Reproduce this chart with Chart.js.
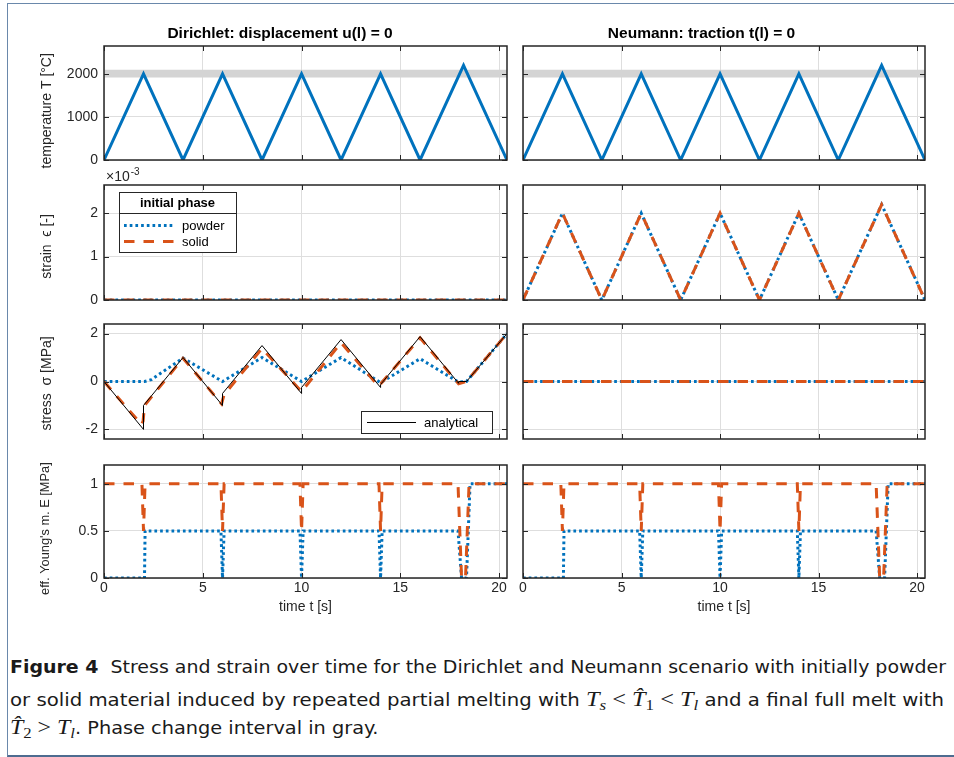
<!DOCTYPE html>
<html>
<head>
<meta charset="utf-8">
<title>Figure 4</title>
<script src="https://cdn.jsdelivr.net/npm/chart.js@4.4.1/dist/chart.umd.min.js"></script>
<style>
  html, body { margin: 0; padding: 0; background: #fff; }
  body { position: relative; width: 954px; height: 757px; overflow: hidden; }
  .frame { position: absolute; left: 7px; top: 3px; width: 960px; height: 751px;
           border-left: 1px solid #6a88ab; border-top: 1px solid #6a88ab; border-bottom: 2px solid #4e6c90; }
  canvas.panel { position: absolute; left: 0; top: 0; }
  .cap { position: absolute; left: 10px; white-space: nowrap; transform-origin: 0 50%;
         font-family: 'DejaVu Sans Condensed', 'Liberation Sans Narrow', 'Liberation Sans', sans-serif;
         font-size: 18px; line-height: 22px; color: #1a1a1a; }
  .m { font-family: 'Liberation Serif', 'DejaVu Serif', serif; font-size: 20px; }
  .m sub { font-size: 0.7em; vertical-align: -0.25em; line-height: 0; }
</style>
</head>
<body>
<div class="frame"></div>
<div class="cap" id="cap1" style="top:656px"><b>Figure 4</b>&nbsp;&nbsp;Stress and strain over time for the Dirichlet and Neumann scenario with initially powder</div>
<div class="cap" id="cap2" style="top:688px">or solid material induced by repeated partial melting with <span class="m"><i>T</i><sub><i>s</i></sub> &lt; <i>T&#770;</i><sub>1</sub> &lt; <i>T</i><sub><i>l</i></sub></span> and a final full melt with</div>
<div class="cap" id="cap3" style="top:716px"><span class="m"><i>T&#770;</i><sub>2</sub> &gt; <i>T</i><sub><i>l</i></sub></span>. Phase change interval in gray.</div>

<script>
const FONT = "'Liberation Sans', Arial, Helvetica, sans-serif";
Chart.defaults.font.family = FONT;
Chart.defaults.color = '#262626';

const BLUE = '#0072BD';
const ORANGE = '#D95319';
const AXIS = '#262626';
const GRID = '#dedede';

// ---------- data ----------
const timeTicks = [0, 5, 10, 15, 20];
const tEnd = 20.4;

// temperature [°C]
const tempTime = [0, 2, 4, 6, 8, 10, 12, 14, 16, 18.2, 20.4];
const tempVal = [0, 2000, 0, 2000, 0, 2000, 0, 2000, 0, 2200, 0];
const phaseBand = [1920, 2100];            // solidus / liquidus
const tempTicks = [0, 1000, 2000];

// strain [-]
const strainTime = [0, 2, 4, 6, 8, 10, 12, 14, 16, 18.2, 20.4];
const strainPowder = [0, 0.002, 0, 0.002, 0, 0.002, 0, 0.002, 0, 0.0022, 0];
const strainSolid = [0, 0.002, 0, 0.002, 0, 0.002, 0, 0.002, 0, 0.0022, 0];
const strainTicks = [0, 0.001, 0.002];

// constant zero curves (Dirichlet strain, Neumann stress)
const flatTime = [0, 20.4];
const flatZero = [0, 0];

// stress [MPa], Dirichlet
const anaTime = [0, 2, 2, 4, 6, 6, 8, 10, 10, 12, 14, 14, 16, 17.95, 17.95, 18.35, 20.4];
const anaVal = [0, -2, -1, 1, -1, -0.5, 1.5, -0.5, -0.25, 1.75, -0.25, -0.125, 1.875, -0.075, 0, 0, 2];
const solTime = [0, 1.9, 1.98, 2.05, 4, 5.95, 6.08, 8, 10, 12, 13.9, 16, 17.95, 18.35, 20.4];
const solVal = [0, -1.8, -1.65, -1.0, 0.97, -0.93, -0.55, 1.38, -0.42, 1.62, -0.2, 1.82, -0.1, 0, 2.0];
const powTime = [0, 2.05, 2.4, 4, 6, 8, 10, 12, 14, 16, 17.95, 18.35, 20.4];
const powVal = [0, 0, 0.08, 0.98, 0, 1.0, 0, 1.0, -0.05, 0.95, -0.03, 0, 2.0];
const stressTicks = [-2, 0, 2];

// effective Young's modulus [MPa]
const eSolTime = [0, 1.92, 2.0, 2.08, 5.92, 6.0, 6.08, 9.92, 10.0, 10.08, 13.92, 14.0, 14.08, 17.92, 18.1, 18.3, 18.48, 20.4];
const eSolVal = [1, 1, 0.5, 1, 1, 0.5, 1, 1, 0.5, 1, 1, 0.5, 1, 1, 0, 0, 1, 1];
const ePowTime = [0, 2.05, 2.08, 5.92, 6.0, 6.08, 9.92, 10.0, 10.08, 13.92, 14.0, 14.08, 17.92, 18.1, 18.35, 18.53, 20.4];
const ePowVal = [0, 0, 0.5, 0.5, 0, 0.5, 0.5, 0, 0.5, 0.5, 0, 0.5, 0.5, 0, 0, 1, 1];
const modTicks = [0, 0.5, 1];

const colTitles = ['Dirichlet: displacement u(l) = 0', 'Neumann: traction t(l) = 0'];

// ---------- layout (page pixels) ----------
const colLeft = [104, 523], colRight = [507, 925];
const rowTop = [46, 185, 324, 465], rowBottom = [160, 300, 439, 578];
const yAxisW = [51, 45];
const xAxisH = 38;

const pts = (xs, ys) => xs.map((x, i) => ({x: x, y: ys[i]}));
const series = (xs, ys, style) => Object.assign({
  data: pts(xs, ys), pointRadius: 0, fill: false, tension: 0, borderCapStyle: 'butt'
}, style);
const powderStyle = {label: 'powder', borderColor: BLUE, borderWidth: 3, borderDash: [2.7, 3], order: 2};
const solidStyle = {label: 'solid', borderColor: ORANGE, borderWidth: 3, borderDash: [10.5, 9], order: 1};
const anaStyle = {label: 'analytical', borderColor: '#000', borderWidth: 1, order: 0};

// box with inward ticks on all four sides, like MATLAB "box on"
const matlabAxes = {
  id: 'matlabAxes',
  afterDraw(chart) {
    const {ctx, chartArea: a, scales: {x, y}} = chart;
    ctx.save();
    ctx.strokeStyle = AXIS;
    ctx.lineWidth = 1;
    ctx.beginPath();
    x.ticks.forEach(t => {
      const px = Math.round(x.getPixelForValue(t.value)) + 0.5;
      ctx.moveTo(px, a.bottom); ctx.lineTo(px, a.bottom - 5);
      ctx.moveTo(px, a.top); ctx.lineTo(px, a.top + 5);
    });
    y.ticks.forEach(t => {
      const py = Math.round(y.getPixelForValue(t.value)) + 0.5;
      ctx.moveTo(a.left, py); ctx.lineTo(a.left + 5, py);
      ctx.moveTo(a.right, py); ctx.lineTo(a.right - 5, py);
    });
    ctx.stroke();
    ctx.lineWidth = 1.5;
    ctx.strokeRect(a.left, a.top, a.right - a.left, a.bottom - a.top);
    ctx.restore();
  }
};
Chart.register(matlabAxes);

// framed legend drawn inside the axes
const boxLegend = {
  id: 'boxLegend',
  afterDraw(chart, args, o) {
    const {ctx, chartArea: a} = chart;
    const x0 = o.right !== undefined ? a.right - o.right - o.width : a.left + o.left;
    const y0 = o.bottom !== undefined ? a.bottom - o.bottom - o.height : a.top + o.top;
    ctx.save();
    ctx.fillStyle = '#fff';
    ctx.fillRect(x0, y0, o.width, o.height);
    ctx.strokeStyle = AXIS;
    ctx.lineWidth = 1;
    ctx.strokeRect(x0 + 0.5, y0 + 0.5, o.width, o.height);
    let y = y0;
    if (o.title) {
      ctx.font = 'bold 13px ' + FONT;
      ctx.fillStyle = '#000';
      ctx.textAlign = 'center';
      ctx.textBaseline = 'middle';
      ctx.fillText(o.title, x0 + o.width / 2, y0 + o.titleH / 2 + 1);
      ctx.beginPath();
      ctx.moveTo(x0, y0 + o.titleH + 0.5);
      ctx.lineTo(x0 + o.width, y0 + o.titleH + 0.5);
      ctx.stroke();
      y += o.titleH;
    }
    o.items.forEach((idx, i) => {
      const ds = chart.data.datasets[idx];
      const cy = Math.round(y + o.firstRow + i * o.rowH);
      ctx.setLineDash(ds.borderDash || []);
      ctx.strokeStyle = ds.borderColor;
      ctx.lineWidth = ds.borderWidth;
      ctx.lineCap = 'butt';
      ctx.beginPath();
      ctx.moveTo(x0 + o.sampleX[0], cy + 0.5);
      ctx.lineTo(x0 + o.sampleX[1], cy + 0.5);
      ctx.stroke();
      ctx.setLineDash([]);
      ctx.font = '13px ' + FONT;
      ctx.fillStyle = '#000';
      ctx.textAlign = 'left';
      ctx.textBaseline = 'middle';
      ctx.fillText(ds.label, x0 + o.textX, cy + 1);
    });
    ctx.restore();
  }
};

// "x10^-3" multiplier above the strain axis
const exponentLabel = {
  id: 'exponentLabel',
  afterDraw(chart, args, o) {
    const {ctx, chartArea: a} = chart;
    ctx.save();
    ctx.fillStyle = AXIS;
    ctx.textBaseline = 'alphabetic';
    ctx.textAlign = 'left';
    ctx.font = '14px ' + FONT;
    ctx.fillText('\u00d710', a.left + 2, a.top - 4);
    const w = ctx.measureText('\u00d710').width;
    ctx.font = '10px ' + FONT;
    ctx.fillText(o.text, a.left + 3 + w, a.top - 10);
    ctx.restore();
  }
};

function panel(row, col, datasets, y, extra) {
  const canvas = document.createElement('canvas');
  canvas.width = 954;
  canvas.height = 757;
  canvas.className = 'panel';
  document.body.appendChild(canvas);

  const leftAxis = col === 0;
  const bottomAxis = row === 3;
  const hasTitle = row === 0;
  const titleSize = 15.5, titlePadB = 3;
  const padTop = hasTitle ? rowTop[row] - titleSize * 1.2 - titlePadB : rowTop[row];
  const yTitleSize = y.titleSize || 14;
  // MATLAB put the y labels a little below the axis centre: pad the top end with spaces
  const yTitle = y.label + '\u00a0'.repeat(y.shiftSpaces || 0);
  const pluginOpts = {
    legend: {display: false},
    tooltip: {enabled: false},
    title: {
      display: hasTitle, text: colTitles[col], color: '#000',
      font: {size: titleSize, weight: 'bold'}, padding: {top: 0, bottom: titlePadB}
    }
  };
  Object.assign(pluginOpts, (extra && extra.options) || {});

  return new Chart(canvas, {
    type: 'line',
    data: {datasets: datasets},
    options: {
      responsive: false,
      animation: false,
      devicePixelRatio: 1,
      events: [],
      layout: {
        padding: {
          left: colLeft[col] - yAxisW[col],
          right: 954 - colRight[col],
          top: padTop,
          bottom: 757 - rowBottom[row] - (bottomAxis ? xAxisH : 0)
        }
      },
      plugins: pluginOpts,
      scales: {
        x: {
          type: 'linear', min: 0, max: tEnd,
          afterBuildTicks: s => { s.ticks = timeTicks.map(v => ({value: v})); },
          afterFit: s => { s.height = bottomAxis ? xAxisH : 0; },
          grid: {color: GRID, lineWidth: 1, drawTicks: false},
          border: {display: false},
          ticks: {display: bottomAxis, padding: 2, color: AXIS, font: {size: 14}, maxRotation: 0},
          title: {display: bottomAxis, text: 'time t [s]', color: AXIS, font: {size: 14}, padding: 0}
        },
        y: {
          type: 'linear', min: y.min, max: y.max,
          afterBuildTicks: s => { s.ticks = y.ticks.map(v => ({value: v})); },
          afterFit: s => { s.width = yAxisW[col]; },
          grid: {color: GRID, lineWidth: 1, drawTicks: false},
          border: {display: false},
          ticks: {display: leftAxis, padding: 6, color: AXIS, font: {size: 14}, callback: y.fmt},
          title: {
            display: leftAxis, text: yTitle, color: AXIS, font: {size: yTitleSize},
            padding: {top: 47 - (colLeft[0] - yAxisW[0]) - yTitleSize * 0.6 - (y.titleShift || 0), bottom: 0}
          }
        }
      }
    },
    plugins: (extra && extra.plugins) || []
  });
}

const tempAxis = {min: 0, max: 2650, ticks: tempTicks, fmt: v => String(v), label: 'temperature T [\u00b0C]', shiftSpaces: 4};
const strainAxis = {min: 0, max: 0.00265, ticks: strainTicks, fmt: v => String(Math.round(v * 1000)), label: 'strain  \u03f5 [-]', shiftSpaces: 2};
const stressAxis = {min: -2.4, max: 2.4, ticks: stressTicks, fmt: v => String(v), label: 'stress  \u03c3 [MPa]', shiftSpaces: 1};
const modAxis = {min: 0, max: 1.2, ticks: modTicks, fmt: v => String(v), label: "eff. Young's m. E [MPa]", titleSize: 12.8, titleShift: 2, shiftSpaces: 4};

const band = () => ({
  data: pts(flatTime, [phaseBand[1], phaseBand[1]]),
  fill: {value: phaseBand[0]}, backgroundColor: '#d4d4d4',
  borderWidth: 0, pointRadius: 0, order: 5
});
const temp = () => series(tempTime, tempVal, {borderColor: BLUE, borderWidth: 3, borderJoinStyle: 'miter', order: 1});

// row 1: temperature
panel(0, 0, [band(), temp()], tempAxis);
panel(0, 1, [band(), temp()], tempAxis);

// row 2: strain
panel(1, 0, [series(flatTime, flatZero, powderStyle), series(flatTime, flatZero, solidStyle)], strainAxis, {
  plugins: [boxLegend, exponentLabel],
  options: {
    boxLegend: {left: 15, top: 7, width: 117, height: 60, title: 'initial phase', titleH: 21,
                items: [0, 1], firstRow: 12, rowH: 16, sampleX: [5, 56], textX: 63},
    exponentLabel: {text: '-3'}
  }
});
panel(1, 1, [series(strainTime, strainPowder, powderStyle), series(strainTime, strainSolid, solidStyle)], strainAxis);

// row 3: stress
panel(2, 0, [series(powTime, powVal, powderStyle), series(solTime, solVal, solidStyle), series(anaTime, anaVal, anaStyle)], stressAxis, {
  plugins: [boxLegend],
  options: {
    boxLegend: {right: 15, bottom: 6, width: 131, height: 22, items: [2], firstRow: 11, rowH: 16,
                sampleX: [6, 55], textX: 63}
  }
});
panel(2, 1, [series(flatTime, flatZero, powderStyle), series(flatTime, flatZero, solidStyle)], stressAxis);

// row 4: effective Young's modulus
panel(3, 0, [series(ePowTime, ePowVal, powderStyle), series(eSolTime, eSolVal, solidStyle)], modAxis);
panel(3, 1, [series(ePowTime, ePowVal, powderStyle), series(eSolTime, eSolVal, solidStyle)], modAxis);

// caption: stretch each justified line to its width in the figure
function fitLine(id, target) {
  const el = document.getElementById(id);
  const s = target / el.getBoundingClientRect().width;
  el.style.transform = 'scaleX(' + s + ')';
  return s;
}
const s1 = fitLine('cap1', 936);
const s2 = fitLine('cap2', 934);
document.getElementById('cap3').style.transform = 'scaleX(' + ((s1 + s2) / 2) + ')';
</script>
</body>
</html>
